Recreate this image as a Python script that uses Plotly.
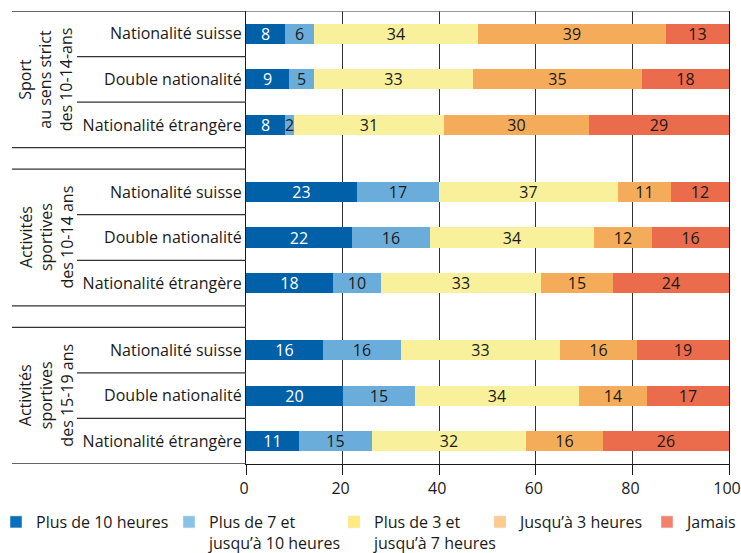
import plotly.graph_objects as go

# groups and rows, top to bottom
groups = ['Sport<br>au sens strict<br>des 10-14-ans',
          'Activités<br>sportives<br>des 10-14 ans',
          'Activités<br>sportives<br>des 15-19 ans']
rows = ['Nationalité suisse', 'Double nationalité', 'Nationalité étrangère']

series = ['Plus de 10 heures', 'Plus de 7 et<br>jusqu’à 10 heures',
          'Plus de 3 et<br>jusqu’à 7 heures', 'Jusqu’à 3 heures', 'Jamais']

# percentages, one list per series, rows in order (group 1 rows, group 2 rows, group 3 rows)
plus10 = [8, 9, 8, 23, 22, 18, 16, 20, 11]
plus7 = [6, 5, 2, 17, 16, 10, 16, 15, 15]
plus3 = [34, 33, 31, 37, 34, 33, 33, 34, 32]
upto3 = [39, 35, 30, 11, 12, 15, 16, 14, 16]
jamais = [13, 18, 29, 12, 16, 24, 19, 17, 26]
values = [plus10, plus7, plus3, upto3, jamais]

bar_colors = ['#0061A9', '#6AADDB', '#F8F09B', '#F5AC5A', '#EA6C4C']
legend_colors = ['#0A6FBC', '#8BC3E6', '#FFEB7F', '#FDCA90', '#F2826A']
text_colors = ['white', '#1a1a1a', '#1a1a1a', '#1a1a1a', '#1a1a1a']
legend_widths = [128, 120, 101, 127, 50]
# last entry goes in a second legend so the row does not wrap
legend_ids = ['legend', 'legend', 'legend', 'legend', 'legend2']

FONT = 'Open Sans, sans-serif'
W, H = 741, 553
L, R, T, B = 246, 12, 11, 89
GAP = 0.47  # blank space between groups, in row units

# row centres on a numeric y axis
ypos = []
for g in range(len(groups)):
    for r in range(len(rows)):
        ypos.append(g * (len(rows) + GAP) + r + 0.5)
ymax = len(groups) * len(rows) + (len(groups) - 1) * GAP


def px_x(p):
    return (p - L) / (W - L - R)


def px_y(p):
    return (H - B - p) / (H - T - B)


fig = go.Figure()
for name, vals, col, tcol in zip(series, values, bar_colors, text_colors):
    fig.add_trace(go.Bar(
        x=vals, y=ypos, orientation='h', width=0.44,
        marker=dict(color=col, line=dict(width=0)),
        text=vals, textposition='inside', insidetextanchor='middle', textangle=0,
        textfont=dict(color=tcol, size=16, family=FONT),
        showlegend=False, hoverinfo='skip'))

# legend entries
for name, col, lw, lg in zip(series, legend_colors, legend_widths, legend_ids):
    fig.add_trace(go.Bar(x=[None], y=[None], orientation='h', name=name,
                         marker=dict(color=col), legendwidth=lw, legend=lg))

# separator lines in the label column
shapes = []
for g in range(len(groups)):
    top = g * (len(rows) + GAP)
    for r in range(len(rows) + 1):
        outer = r in (0, len(rows))
        shapes.append(dict(type='line', xref='paper', yref='y',
                           x0=px_x(12 if outer else 77), x1=0,
                           y0=top + r, y1=top + r,
                           line=dict(color='#333333', width=1.3)))
shapes.append(dict(type='line', xref='paper', yref='y', x0=0, x1=1, y0=0, y1=0,
                   line=dict(color='#777777', width=1.3)))

annotations = []
for g, label in enumerate(groups):
    top = g * (len(rows) + GAP)
    annotations.append(dict(text=label, xref='paper', yref='y', x=px_x(46),
                            y=top + len(rows) / 2, xanchor='center', yanchor='middle',
                            textangle=-90, showarrow=False, align='center',
                            font=dict(size=16, family=FONT, color='#1a1a1a')))

legend_style = dict(orientation='h', xanchor='left', y=px_y(505), yanchor='top',
                    valign='top', font=dict(size=16, family=FONT), traceorder='normal',
                    itemclick=False, bgcolor='rgba(0,0,0,0)')

fig.update_layout(
    width=W, height=H, margin=dict(l=L, r=R, t=T, b=B, autoexpand=False),
    paper_bgcolor='white', plot_bgcolor='white',
    barmode='stack', bargap=0,
    font=dict(family=FONT, size=16, color='#1a1a1a'),
    uniformtext=dict(mode='show', minsize=16),
    shapes=shapes, annotations=annotations,
    xaxis=dict(range=[0, 100], dtick=20, showgrid=True, gridcolor='#333333', gridwidth=1,
               zeroline=False, showline=True, linecolor='#1a1a1a', linewidth=1.3,
               ticks='outside', ticklen=10, tickcolor='#1a1a1a', automargin=False,
               ticklabeloverflow='allow', ticklabelshift=-2,
               tickfont=dict(size=16, family=FONT)),
    yaxis=dict(range=[ymax, 0], tickvals=ypos, ticktext=rows * len(groups),
               showgrid=False, zeroline=False, showline=True, mirror=True,
               linecolor='#1a1a1a', linewidth=1.3, ticks='', automargin=False,
               tickfont=dict(size=16, family=FONT)),
    legend=dict(x=px_x(-4), **legend_style),
    legend2=dict(x=px_x(647), **legend_style),
)

# drop the browser's default 8px body margin so the figure fills the window
fig.write_html('out.html', config={'displayModeBar': False},
               post_script="document.body.style.margin='0';")
